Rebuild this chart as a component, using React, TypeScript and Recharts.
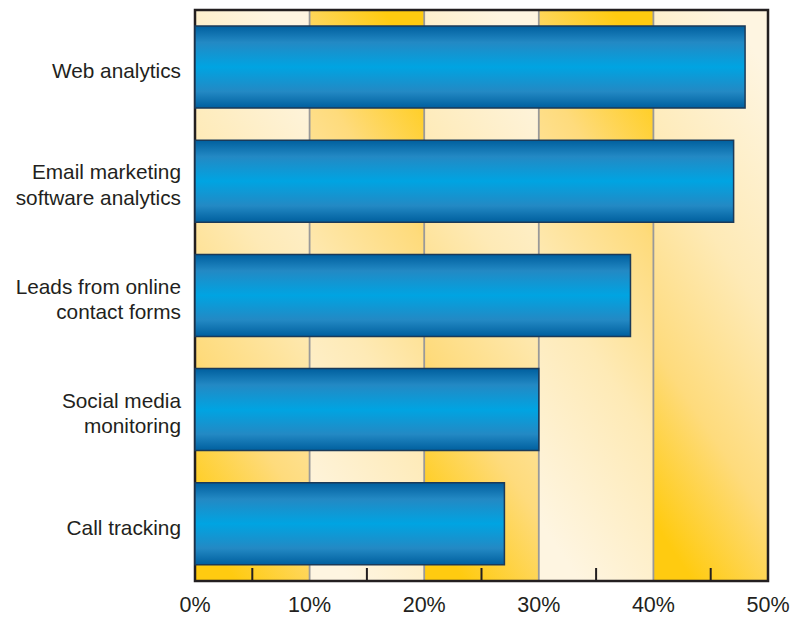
import React from 'react';
import { BarChart, Bar, XAxis, YAxis, CartesianGrid, ReferenceArea } from 'recharts';

const categories = [
  'Web analytics',
  'Email marketing\nsoftware analytics',
  'Leads from online\ncontact forms',
  'Social media\nmonitoring',
  'Call tracking',
];
const shares = [48, 47, 38, 30, 27];
const xTicks = [0, 5, 10, 15, 20, 25, 30, 35, 40, 45, 50];
const majorTicks = [0, 10, 20, 30, 40, 50];

const data = categories.map((name, i) => ({ name, value: shares[i] }));

const TEXT = '#231f20';
const FONT = '"Liberation Sans", Arial, Helvetica, sans-serif';

function XTick(props: any) {
  const { x, y, payload } = props;
  const v = payload.value;
  if (v % 10 !== 0) {
    return <line x1={x} x2={x} y1={y} y2={y - 13} stroke="#231f20" strokeWidth={2} />;
  }
  return (
    <text x={x} y={y + 31} textAnchor="middle" fontSize={21.5} fill={TEXT} fontFamily={FONT}>
      {v}%
    </text>
  );
}

function YTick(props: any) {
  const { x, y, payload } = props;
  const lines = String(payload.value).split('\n');
  const first = lines.length === 1 ? 11 : -2;
  return (
    <text x={x - 14} y={y} textAnchor="end" fontSize={20.8} fill={TEXT} fontFamily={FONT}>
      {lines.map((l, i) => (
        <tspan key={i} x={x - 14} y={y + first + i * 25.5}>
          {l}
        </tspan>
      ))}
    </text>
  );
}

const gridX = ({ xAxis }: any) => {
  const s = xAxis.scale;
  const f = typeof s === 'function' ? s : (v: number) => s.map(v);
  return majorTicks.map((v) => f(v));
};

const stripeStops = (
  <>
    <stop offset="0" stopColor="#ffcb10" />
    <stop offset="0.28" stopColor="#fedb7c" />
    <stop offset="0.6" stopColor="#feeab6" />
    <stop offset="1" stopColor="#fef5e1" />
  </>
);

export default function App() {
  return (
    <div style={{ position: 'absolute', left: 0, top: 0 }}>
      <BarChart
        width={793}
        height={617}
        data={data}
        layout="vertical"
        margin={{ top: 10, right: 25, bottom: 0, left: 0 }}
        barCategoryGap="14%"
      >
        <defs>
          {/* gold at bottom-left */}
          <linearGradient id="colA" x1="0.35" y1="1" x2="0.65" y2="0">
            {stripeStops}
          </linearGradient>
          {/* gold at top-right */}
          <linearGradient id="colB" x1="0.65" y1="0" x2="0.35" y2="1">
            {stripeStops}
          </linearGradient>
          <linearGradient id="barGrad" x1="0" y1="0" x2="0" y2="1">
            <stop offset="0" stopColor="#005f9e" />
            <stop offset="0.2" stopColor="#2389c4" />
            <stop offset="0.5" stopColor="#00a4e2" />
            <stop offset="0.8" stopColor="#2389c4" />
            <stop offset="1" stopColor="#005f9e" />
          </linearGradient>
        </defs>
        <CartesianGrid
          horizontal={false}
          stroke="#999999"
          strokeWidth={1.8}
          verticalCoordinatesGenerator={gridX}
          verticalFill={['url(#colA)', 'url(#colB)']}
          fillOpacity={1}
        />
        <XAxis
          type="number"
          domain={[0, 50]}
          ticks={xTicks}
          interval={0}
          height={36}
          axisLine={false}
          tickLine={false}
          tickSize={0}
          tickMargin={0}
          tick={<XTick />}
        />
        <YAxis
          type="category"
          dataKey="name"
          width={195}
          axisLine={false}
          tickLine={false}
          tickSize={0}
          tickMargin={0}
          interval={0}
          tick={<YTick />}
        />
        <Bar
          dataKey="value"
          fill="url(#barGrad)"
          stroke="#1b3a58"
          strokeWidth={1.5}
          isAnimationActive={false}
        />
        <ReferenceArea x1={0} x2={50} fill="none" stroke="#231f20" strokeWidth={2.5} ifOverflow="visible" />
      </BarChart>
    </div>
  );
}
